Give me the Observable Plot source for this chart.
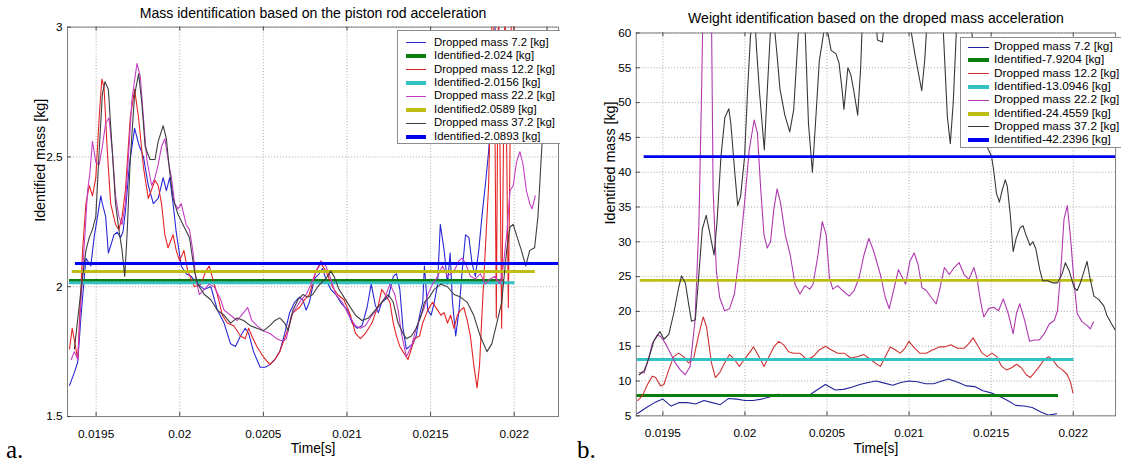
<!DOCTYPE html>
<html><head><meta charset="utf-8">
<script src="https://cdn.jsdelivr.net/npm/d3@7"></script>
<script src="https://cdn.jsdelivr.net/npm/@observablehq/plot@0.6"></script>
<style>
body{margin:0;background:#fff;}
#fig{position:relative;width:1121px;height:462px;overflow:hidden;background:#fff;font-family:"Liberation Sans",Arial,sans-serif;color:#000;}
.panel{position:absolute;top:0;height:462px;overflow:hidden;}
.legend{position:absolute;background:#fff;border:1px solid #8c8c8c;box-sizing:border-box;}
.legend .row{position:absolute;left:0;height:0;white-space:nowrap;}
.legend .sw{position:absolute;}
.legend .tx{position:absolute;transform:translateY(-50%);line-height:1;}
.cap{position:absolute;font-family:"Liberation Serif","Times New Roman",serif;font-size:25px;line-height:1;}
</style></head><body><div id="fig"></div><script>
// ---------- shared ----------
const xTicks = [0.0195, 0.02, 0.0205, 0.021, 0.0215, 0.022];
const xLabel = "Time[s]";
const yLabel = "Identified mass [kg]";

// ---------- panel a ----------
const aTitle = "Mass identification based on the piston rod acceleration";
const aYTicks = [1.5, 2, 2.5, 3];
const aLegend = ["Dropped mass 7.2 [kg]","Identified-2.024 [kg]","Dropped mass 12.2 [kg]","Identified-2.0156 [kg]","Dropped mass 22.2 [kg]","Identified2.0589 [kg]","Dropped mass 37.2 [kg]","Identified-2.0893 [kg]"];
const aIdentValues = [2.024, 2.0156, 2.0589, 2.0893];
const aIdentStart = [0.019341, 0.019341, 0.019357, 0.019376];
const aIdentEnd = [0.02194, 0.022004, 0.022126, 0.0223];

const aMass7 = [[0.019341,1.62],[0.01937,1.67],[0.01939,1.71],[0.01941,1.89],[0.019439,2.11],[0.019468,2.08],[0.019488,2.19],[0.019508,2.27],[0.019528,2.35],[0.019537,2.32],[0.019557,2.27],[0.019573,2.13],[0.019593,2.17],[0.019606,2.20],[0.019626,2.21],[0.019646,2.19],[0.01966,2.21],[0.019675,2.29],[0.019699,2.47],[0.01973,2.61],[0.019754,2.55],[0.019783,2.50],[0.019812,2.39],[0.019842,2.32],[0.019871,2.34],[0.019901,2.42],[0.01992,2.37],[0.01994,2.42],[0.01996,2.32],[0.019979,2.21],[0.020009,2.08],[0.020038,2.05],[0.020068,2.04],[0.020107,2.01],[0.020147,1.99],[0.020186,2.00],[0.020225,1.91],[0.020265,1.86],[0.020304,1.78],[0.020333,1.77],[0.020363,1.81],[0.020392,1.84],[0.020412,1.82],[0.020441,1.75],[0.020481,1.69],[0.02051,1.69],[0.020539,1.70],[0.020569,1.72],[0.020598,1.75],[0.020628,1.82],[0.020657,1.90],[0.020687,1.94],[0.020716,1.96],[0.020736,1.95],[0.020756,1.91],[0.020775,1.94],[0.020805,2.03],[0.020834,2.05],[0.020854,2.07],[0.020874,2.03],[0.020903,1.99],[0.020933,1.97],[0.020962,1.94],[0.021002,1.91],[0.021031,1.86],[0.021061,1.84],[0.02109,1.85],[0.02112,1.92],[0.021145,2.01],[0.021169,1.93],[0.021188,1.90],[0.021208,1.94],[0.021247,1.96],[0.021277,2.04],[0.021296,2.05],[0.021316,1.99],[0.021335,1.84],[0.021355,1.76],[0.021375,1.77],[0.021394,1.78],[0.021414,1.81],[0.021434,1.89],[0.021453,1.94],[0.021463,2.08],[0.021483,1.91],[0.021503,1.89],[0.021522,1.94],[0.021542,2.01],[0.021558,2.24],[0.021581,2.14],[0.021601,2.01],[0.021617,2.13],[0.02163,1.95],[0.02165,1.81],[0.02167,1.91],[0.021689,2.06],[0.021709,2.20],[0.021729,2.19],[0.021748,2.09],[0.021768,2.04],[0.021788,2.14],[0.021807,2.27],[0.021827,2.39],[0.021847,2.52],[0.021866,2.71],[0.02188,2.90],[0.021896,3.15],[0.02194,3.3]];

const aMass12 = [[0.019341,1.76],[0.019357,1.84],[0.01939,1.72],[0.019419,2.14],[0.019439,2.32],[0.019459,2.39],[0.019478,2.35],[0.019498,2.42],[0.019518,2.65],[0.019534,2.80],[0.019547,2.77],[0.019567,2.52],[0.019587,2.32],[0.019616,2.24],[0.019636,2.22],[0.019655,2.27],[0.019675,2.37],[0.019704,2.65],[0.01973,2.76],[0.019754,2.65],[0.019783,2.46],[0.019812,2.34],[0.019852,2.41],[0.019871,2.39],[0.019891,2.32],[0.019911,2.20],[0.01993,2.15],[0.01996,2.20],[0.019979,2.14],[0.019999,2.10],[0.020025,2.14],[0.020048,2.06],[0.020088,2.00],[0.020127,2.01],[0.020156,2.06],[0.020176,2.08],[0.020206,2.01],[0.020225,1.97],[0.020255,1.89],[0.020284,1.86],[0.020323,1.85],[0.020363,1.81],[0.020392,1.80],[0.020412,1.84],[0.020431,1.81],[0.020461,1.77],[0.0205,1.73],[0.020539,1.70],[0.020569,1.72],[0.020598,1.75],[0.020638,1.82],[0.020677,1.90],[0.020716,1.92],[0.020746,1.95],[0.020775,1.97],[0.020815,2.06],[0.020844,2.09],[0.020874,2.06],[0.020913,2.00],[0.020943,1.97],[0.020982,1.95],[0.021021,1.89],[0.021051,1.82],[0.02108,1.80],[0.02111,1.82],[0.021149,1.86],[0.021188,1.93],[0.021208,1.99],[0.021238,1.96],[0.021257,1.94],[0.021277,1.86],[0.021296,1.81],[0.021316,1.77],[0.021335,1.75],[0.021365,1.72],[0.021385,1.76],[0.021404,1.80],[0.021434,1.81],[0.021453,1.86],[0.021483,1.91],[0.021512,1.94],[0.021542,1.91],[0.021562,1.89],[0.021581,1.90],[0.021601,1.86],[0.02162,1.89],[0.02164,1.84],[0.02166,1.89],[0.021679,1.91],[0.021699,1.92],[0.021719,1.87],[0.021738,1.81],[0.021758,1.70],[0.021778,1.61],[0.021793,1.70],[0.021807,1.89],[0.021827,2.14],[0.021847,2.39],[0.021856,2.65],[0.02187,3.15],[0.021882,2.9],[0.021893,1.88],[0.021906,3.15],[0.021925,1.84],[0.021945,3.15],[0.021965,1.92],[0.021985,3.15],[0.022,2.95]];

const aMass22 = [[0.019351,1.72],[0.01937,1.75],[0.01939,1.72],[0.01941,1.95],[0.019429,2.16],[0.019449,2.37],[0.019463,2.44],[0.019478,2.56],[0.019498,2.48],[0.019518,2.47],[0.019537,2.54],[0.019557,2.63],[0.019577,2.65],[0.019597,2.52],[0.019616,2.35],[0.019636,2.27],[0.019655,2.24],[0.019675,2.32],[0.019695,2.52],[0.019714,2.72],[0.019744,2.86],[0.019764,2.81],[0.019783,2.65],[0.019803,2.49],[0.019832,2.39],[0.019852,2.42],[0.019871,2.47],[0.019891,2.54],[0.019911,2.57],[0.01993,2.49],[0.01995,2.42],[0.01997,2.32],[0.019989,2.30],[0.020009,2.32],[0.020038,2.24],[0.020058,2.22],[0.020078,2.14],[0.020097,2.03],[0.020117,1.97],[0.020147,1.99],[0.020176,2.01],[0.020206,2.00],[0.020245,1.95],[0.020265,1.91],[0.020304,1.89],[0.020343,1.87],[0.020382,1.90],[0.020406,1.92],[0.020431,1.87],[0.020461,1.85],[0.0205,1.83],[0.020539,1.82],[0.020579,1.80],[0.020618,1.79],[0.020638,1.80],[0.020667,1.89],[0.020697,1.92],[0.020726,1.95],[0.020756,1.97],[0.020785,2.01],[0.020815,2.06],[0.020844,2.10],[0.020874,2.08],[0.020903,2.03],[0.020933,1.97],[0.020972,1.94],[0.021011,1.89],[0.021051,1.85],[0.02108,1.84],[0.02111,1.85],[0.021149,1.89],[0.021188,1.92],[0.021228,1.96],[0.021257,2.01],[0.021286,1.97],[0.021306,1.91],[0.021326,1.82],[0.021355,1.73],[0.021385,1.77],[0.021414,1.84],[0.021444,1.89],[0.021463,1.92],[0.021483,1.97],[0.021512,2.01],[0.021542,2.04],[0.021571,2.08],[0.021601,2.04],[0.02164,2.06],[0.02167,2.10],[0.021689,2.11],[0.021709,2.09],[0.021738,2.04],[0.021768,2.03],[0.021797,2.05],[0.021827,2.01],[0.021856,2.03],[0.021886,2.04],[0.021916,2.01],[0.021935,2.08],[0.021955,2.20],[0.021975,2.37],[0.021994,2.39],[0.022014,2.48],[0.022034,2.52],[0.022053,2.47],[0.022073,2.37],[0.022093,2.32],[0.022107,2.30],[0.022126,2.35]];

const aMass37 = [[0.01937,1.76],[0.01941,1.99],[0.019439,2.14],[0.019459,2.19],[0.019478,2.22],[0.019498,2.27],[0.019518,2.52],[0.019537,2.74],[0.019553,2.79],[0.019573,2.76],[0.019597,2.52],[0.019616,2.32],[0.019636,2.22],[0.019655,2.14],[0.019671,2.04],[0.019685,2.20],[0.019704,2.49],[0.01973,2.74],[0.019754,2.82],[0.019773,2.71],[0.019793,2.54],[0.019822,2.49],[0.019852,2.49],[0.019871,2.56],[0.019901,2.62],[0.01992,2.57],[0.01994,2.44],[0.01996,2.34],[0.019989,2.28],[0.020019,2.24],[0.020058,2.19],[0.020088,2.06],[0.020107,2.01],[0.020147,1.97],[0.020186,1.95],[0.020225,1.91],[0.020265,1.89],[0.020304,1.86],[0.020343,1.88],[0.020382,1.87],[0.020422,1.85],[0.020461,1.84],[0.0205,1.83],[0.020539,1.85],[0.020569,1.87],[0.020598,1.88],[0.020628,1.86],[0.020648,1.83],[0.020677,1.91],[0.020707,1.95],[0.020736,1.97],[0.020766,1.96],[0.020795,1.97],[0.020825,2.00],[0.020854,2.02],[0.020884,2.04],[0.020903,2.06],[0.020923,2.04],[0.020952,1.99],[0.020982,1.96],[0.021011,1.93],[0.021051,1.89],[0.02109,1.87],[0.021129,1.88],[0.021169,1.91],[0.021208,1.94],[0.021247,1.97],[0.021277,1.94],[0.021306,1.86],[0.021335,1.82],[0.021355,1.80],[0.021385,1.81],[0.021414,1.84],[0.021444,1.89],[0.021463,1.94],[0.021493,1.96],[0.021522,1.99],[0.021562,2.01],[0.021601,2.00],[0.02164,1.97],[0.021679,1.96],[0.021719,1.94],[0.021758,1.89],[0.021797,1.81],[0.021837,1.75],[0.021866,1.78],[0.021896,1.86],[0.021925,1.94],[0.021955,2.14],[0.021975,2.23],[0.021994,2.24],[0.022018,2.19],[0.022043,2.14],[0.022069,2.08],[0.022093,2.14],[0.022122,2.15],[0.022142,2.27],[0.022161,2.49],[0.022181,2.71],[0.022195,2.96],[0.02221,3.3]];

// ---------- panel b ----------
const bTitle = "Weight identification based on the droped mass acceleration";
const bYTicks = [5, 10, 15, 20, 25, 30, 35, 40, 45, 50, 55, 60];
const bLegend = ["Dropped mass 7.2 [kg]","Identified-7.9204 [kg]","Dropped mass 12.2 [kg]","Identified-13.0946 [kg]","Dropped mass 22.2 [kg]","Identified-24.4559 [kg]","Dropped mass 37.2 [kg]","Identified-42.2396 [kg]"];
const bIdentValues = [7.9204, 13.0946, 24.4559, 42.2396];
const bIdentStart = [0.019336, 0.019344, 0.019362, 0.019386];
const bIdentEnd = [0.02191, 0.022004, 0.022124, 0.0223];

const bMass7 = [[0.01934,5.3],[0.01935,5.4],[0.0194,6.2],[0.01945,6.9],[0.0195,7.4],[0.01955,6.4],[0.0196,6.9],[0.01965,6.9],[0.0197,6.7],[0.01975,7.2],[0.0198,6.9],[0.01985,6.6],[0.0199,7.5],[0.01995,7.4],[0.02,7.2],[0.02005,7.2],[0.0201,7.4],[0.02015,7.7],[0.0202,8.1],[0.02025,8.0],[0.0203,7.9],[0.02035,7.9],[0.0204,8.1],[0.02045,8.9],[0.02049,9.5],[0.02055,8.7],[0.0206,8.8],[0.02065,9.1],[0.0207,9.5],[0.02075,9.8],[0.0208,10.0],[0.02085,9.7],[0.0209,9.4],[0.02095,9.8],[0.021,10.0],[0.02105,9.9],[0.0211,9.6],[0.02115,9.6],[0.0212,10.0],[0.02124,10.3],[0.0213,9.8],[0.02135,9.3],[0.0214,9.2],[0.02145,8.6],[0.0215,8.3],[0.02155,7.8],[0.0216,7.2],[0.02165,6.5],[0.0217,6.4],[0.02175,6.2],[0.0218,5.6],[0.02185,5.1],[0.0219,5.3]];

const bMass12 = [[0.019346,7.2],[0.019376,7.9],[0.019406,9.5],[0.019436,10.7],[0.019456,10.5],[0.019486,9.3],[0.019506,9.5],[0.019536,11.6],[0.019566,13.5],[0.019596,14.0],[0.019626,13.5],[0.019656,12.6],[0.019686,13.1],[0.019716,16.4],[0.019746,19.2],[0.019766,17.8],[0.019796,12.6],[0.01982,10.5],[0.019846,11.2],[0.019876,12.6],[0.019906,13.8],[0.019936,13.1],[0.019966,12.1],[0.019996,13.1],[0.020026,14.0],[0.020052,14.9],[0.020086,13.5],[0.020116,12.1],[0.020146,13.5],[0.020176,14.9],[0.020206,15.7],[0.020236,15.2],[0.020266,14.2],[0.020295,14.0],[0.020335,14.0],[0.020375,13.1],[0.020415,13.5],[0.020455,14.5],[0.020491,15.0],[0.020525,14.5],[0.020565,14.0],[0.020605,14.0],[0.020645,13.3],[0.020685,13.5],[0.020725,13.8],[0.020765,13.1],[0.020805,12.4],[0.020825,12.1],[0.020855,13.5],[0.020885,14.9],[0.020915,14.5],[0.020945,14.0],[0.020975,14.7],[0.020999,15.7],[0.021035,14.7],[0.021065,14.0],[0.021105,14.0],[0.021145,14.5],[0.021185,14.9],[0.021215,14.9],[0.021255,15.2],[0.021295,14.7],[0.021335,14.7],[0.021365,15.4],[0.02139,16.2],[0.021415,15.2],[0.021445,14.0],[0.021475,13.5],[0.021505,14.0],[0.021534,13.5],[0.021564,12.1],[0.021594,11.6],[0.021624,11.9],[0.021654,12.4],[0.021684,11.9],[0.021714,10.9],[0.021738,10.5],[0.021764,11.2],[0.021794,12.1],[0.021824,13.1],[0.02185,13.5],[0.021874,13.1],[0.021904,12.1],[0.021934,11.6],[0.021964,10.9],[0.021984,9.8],[0.021998,8.3]];

const bMass22 = [[0.019356,11.2],[0.019386,11.2],[0.019406,12.6],[0.019436,15.4],[0.019466,16.6],[0.019486,16.4],[0.019516,15.4],[0.019546,14.0],[0.019576,12.6],[0.019606,11.6],[0.019636,10.9],[0.019666,12.1],[0.019696,18.7],[0.01972,32.9],[0.019736,51.7],[0.019744,63],[0.019796,63],[0.019806,37.6],[0.019826,25.8],[0.019846,22.0],[0.019876,20.1],[0.019906,20.4],[0.019936,22.5],[0.019966,28.1],[0.019996,35.2],[0.020026,43.2],[0.020056,47.5],[0.020076,45.6],[0.020096,37.6],[0.020116,31.0],[0.020136,29.1],[0.020156,30.0],[0.020176,34.7],[0.020196,37.6],[0.020216,35.7],[0.020246,31.0],[0.020276,28.1],[0.020305,23.9],[0.020335,22.5],[0.020365,23.7],[0.020395,23.2],[0.020415,23.9],[0.020445,28.1],[0.020471,32.9],[0.020495,31.0],[0.020515,24.8],[0.020535,23.2],[0.020565,23.7],[0.020595,23.0],[0.020635,22.2],[0.020665,23.0],[0.020695,24.8],[0.020725,28.1],[0.020755,30.5],[0.020785,28.6],[0.020825,25.3],[0.020855,22.0],[0.020879,20.4],[0.020905,23.0],[0.020935,26.0],[0.020965,24.6],[0.020979,23.9],[0.021005,27.2],[0.021031,28.4],[0.021055,26.7],[0.021079,23.4],[0.021105,23.0],[0.021135,22.0],[0.021165,21.1],[0.021185,23.0],[0.021215,26.3],[0.021245,25.3],[0.021275,26.3],[0.021305,27.0],[0.021335,25.3],[0.021365,24.6],[0.021395,26.3],[0.021415,24.6],[0.021435,21.5],[0.021455,19.2],[0.021485,20.4],[0.021515,20.6],[0.021545,20.1],[0.021574,21.8],[0.021604,19.7],[0.021634,16.8],[0.021654,19.7],[0.021674,21.1],[0.021704,18.7],[0.021734,15.7],[0.021764,15.9],[0.021794,15.9],[0.021824,16.8],[0.021854,18.2],[0.021884,18.7],[0.021904,20.1],[0.021924,25.8],[0.021944,33.3],[0.021964,35.2],[0.021984,30.5],[0.022004,24.4],[0.022024,19.7],[0.022054,18.5],[0.022084,18.0],[0.022104,17.5],[0.022124,18.5]];

const bMass37 = [[0.019356,10.9],[0.019386,11.5],[0.019416,13.4],[0.019446,15.8],[0.019482,17.1],[0.019506,16.0],[0.019536,16.7],[0.019566,19.7],[0.019596,23.4],[0.019614,25.1],[0.019638,24.0],[0.019656,21.2],[0.019674,18.6],[0.019698,18.8],[0.019716,24.3],[0.01974,31.8],[0.019764,33.8],[0.019788,31.0],[0.019812,28.1],[0.01983,32.9],[0.019854,42.3],[0.019878,47.9],[0.019902,49.1],[0.019914,47.0],[0.019938,40.0],[0.019956,35.2],[0.019974,36.6],[0.019998,42.3],[0.020016,51.7],[0.020034,59.7],[0.020058,63],[0.02007,58],[0.020088,51.7],[0.020118,43.2],[0.020136,51.7],[0.020154,59.7],[0.020171,63],[0.020195,57],[0.020213,52],[0.020243,48.2],[0.020273,45.8],[0.020297,49],[0.020315,56],[0.020333,63],[0.020363,63],[0.020387,47],[0.020411,40.0],[0.020435,49],[0.020453,56],[0.020483,60.5],[0.020507,59.8],[0.020525,57.5],[0.020555,57],[0.020573,55.7],[0.020591,52],[0.020603,49],[0.020627,55],[0.020645,54],[0.020663,51.7],[0.020687,48.2],[0.020705,55],[0.020717,63],[0.020795,63],[0.020807,59],[0.020837,58.7],[0.020855,63],[0.020993,63],[0.021035,57],[0.021077,51.7],[0.021095,56],[0.021113,63],[0.021203,63],[0.021233,48],[0.021251,44.1],[0.021269,50],[0.021293,63],[0.021364,63],[0.021442,50],[0.021472,43.8],[0.021502,42.3],[0.021514,40.5],[0.021532,37],[0.02155,35.7],[0.021568,37.5],[0.021586,38.9],[0.021598,38],[0.021616,34],[0.021634,28.6],[0.021652,30.5],[0.021676,32],[0.021694,32.3],[0.021712,31],[0.021736,29.5],[0.021754,30.0],[0.021772,29],[0.021796,26],[0.021814,24.4],[0.021844,24.4],[0.021874,24.1],[0.021904,24.1],[0.021934,25.5],[0.021952,27.0],[0.021976,25.8],[0.022006,23.4],[0.022024,23.0],[0.022042,24],[0.022066,25.8],[0.022084,27.2],[0.022102,24.8],[0.022126,22.2],[0.022156,21.7],[0.022186,20.8],[0.022204,19.5],[0.022234,18.2],[0.022264,17]];

// ---------- drawing ----------
const fig = document.getElementById("fig");
const FONT = "'Liberation Sans', Arial, sans-serif";

function makePanel(o) {
  const H = 462;
  const fh = H - o.mT - o.mB, fw = o.svgW - o.mL - o.mR;
  const grid = {stroke: "#a8a8a8", strokeOpacity: 1, strokeDasharray: "1,2", strokeWidth: 1};
  const marks = [
    Plot.gridX(xTicks, grid),
    Plot.gridY(o.yTicks, grid)
  ];
  o.curves.forEach((pts, i) => {
    marks.push(Plot.line(pts, {x: d => d[0], y: d => d[1], stroke: o.curveColors[i], strokeWidth: 1.1, clip: true}));
    marks.push(Plot.ruleY([o.identValues[i]], {y: d => d, x1: () => o.identStart[i], x2: () => o.identEnd[i], stroke: o.identColors[i], strokeWidth: 3, clip: true}));
  });
  marks.push(
    Plot.frame({stroke: "#7c7c7c"}),
    Plot.ruleX(xTicks, {x: d => d, insetTop: fh - 4, stroke: "#444"}),
    Plot.ruleX(xTicks, {x: d => d, insetBottom: fh - 4, stroke: "#444"}),
    Plot.ruleY(o.yTicks, {y: d => d, insetRight: fw - 4, stroke: "#444"}),
    Plot.axisX(xTicks, {tickSize: 0, tickPadding: 13, tickFormat: d => String(d), label: null, fontSize: 12}),
    Plot.axisY(o.yTicks, {tickSize: 0, tickPadding: 5, tickFormat: d => String(d), label: null, fontSize: 12}),
    Plot.text([o.title], {frameAnchor: "top", lineAnchor: "middle", dy: o.titleDy, fontSize: 14.3}),
    Plot.text([xLabel], {frameAnchor: "bottom", lineAnchor: "middle", dy: 33, fontSize: 14}),
    Plot.text([yLabel], {frameAnchor: "left", lineAnchor: "middle", rotate: -90, dx: o.yLabelDx, fontSize: 14.5})
  );
  const svg = Plot.plot({
    width: o.svgW, height: H,
    marginLeft: o.mL, marginRight: o.mR, marginTop: o.mT, marginBottom: o.mB,
    x: {domain: o.xDomain},
    y: {domain: o.yDomain},
    style: {fontFamily: FONT, fontSize: "12px", color: "#000", background: "transparent", overflow: "visible"},
    marks
  });
  const wrap = document.createElement("div");
  wrap.className = "panel";
  wrap.style.left = o.left + "px";
  wrap.style.width = o.width + "px";
  wrap.appendChild(svg);
  // legend
  const lg = document.createElement("div");
  lg.className = "legend";
  Object.assign(lg.style, {left: o.lg.left + "px", top: o.lg.top + "px", width: o.lg.w + "px", height: o.lg.h + "px", fontSize: o.lg.fs + "px"});
  o.legend.forEach((lab, i) => {
    const isIdent = i % 2 === 1;
    const color = isIdent ? o.identColors[(i - 1) / 2] : o.curveColors[i / 2];
    const row = document.createElement("div");
    row.className = "row";
    row.style.top = (o.lg.first + i * o.lg.step) + "px";
    const sw = document.createElement("div");
    sw.className = "sw";
    const th = isIdent ? 4 : 1;
    Object.assign(sw.style, {left: o.lg.swL + "px", width: o.lg.swW + "px", height: th + "px", top: (-th / 2) + "px", background: color});
    const tx = document.createElement("div");
    tx.className = "tx";
    tx.style.left = o.lg.txL + "px";
    tx.textContent = lab;
    row.appendChild(sw); row.appendChild(tx);
    lg.appendChild(row);
  });
  wrap.appendChild(lg);
  fig.appendChild(wrap);
}

makePanel({
  left: 0, width: 560, svgW: 568, mL: 68, mR: 2, mT: 27, mB: 40,
  xDomain: [0.019329, 0.022265], yDomain: [1.5, 3], yTicks: aYTicks,
  title: aTitle, titleDy: -14, yLabelDx: -28,
  curves: [aMass7, aMass12, aMass22, aMass37],
  curveColors: ["#2626d6", "#e42222", "#c43cc4", "#3c3c3c"],
  identValues: aIdentValues, identStart: aIdentStart, identEnd: aIdentEnd,
  identColors: ["#0c7c0c", "#33c2c2", "#bebe12", "#0000f2"],
  legend: aLegend,
  lg: {left: 397, top: 30, w: 180, h: 114, fs: 11.4, first: 11.7, step: 13.4, swL: 8, swW: 20, txL: 36}
});

makePanel({
  left: 560, width: 561, svgW: 570, mL: 77, mR: 6, mT: 33, mB: 40,
  xDomain: [0.019338, 0.022258], yDomain: [5, 60], yTicks: bYTicks,
  title: bTitle, titleDy: -15, yLabelDx: -26,
  curves: [bMass7, bMass12, bMass22, bMass37],
  curveColors: ["#24249a", "#cc3030", "#ae36ae", "#363636"],
  identValues: bIdentValues, identStart: bIdentStart, identEnd: bIdentEnd,
  identColors: ["#0c7c0c", "#33c2c2", "#bebe12", "#0000f2"],
  legend: bLegend,
  lg: {left: 400, top: 37, w: 180, h: 111, fs: 11.8, first: 9, step: 13.3, swL: 7, swW: 21, txL: 33}
});

// panel captions
[["a.", 6], ["b.", 577]].forEach(([t, x]) => {
  const c = document.createElement("div");
  c.className = "cap";
  c.textContent = t;
  c.style.left = x + "px";
  c.style.top = "437px";
  fig.appendChild(c);
});
</script></body></html>
